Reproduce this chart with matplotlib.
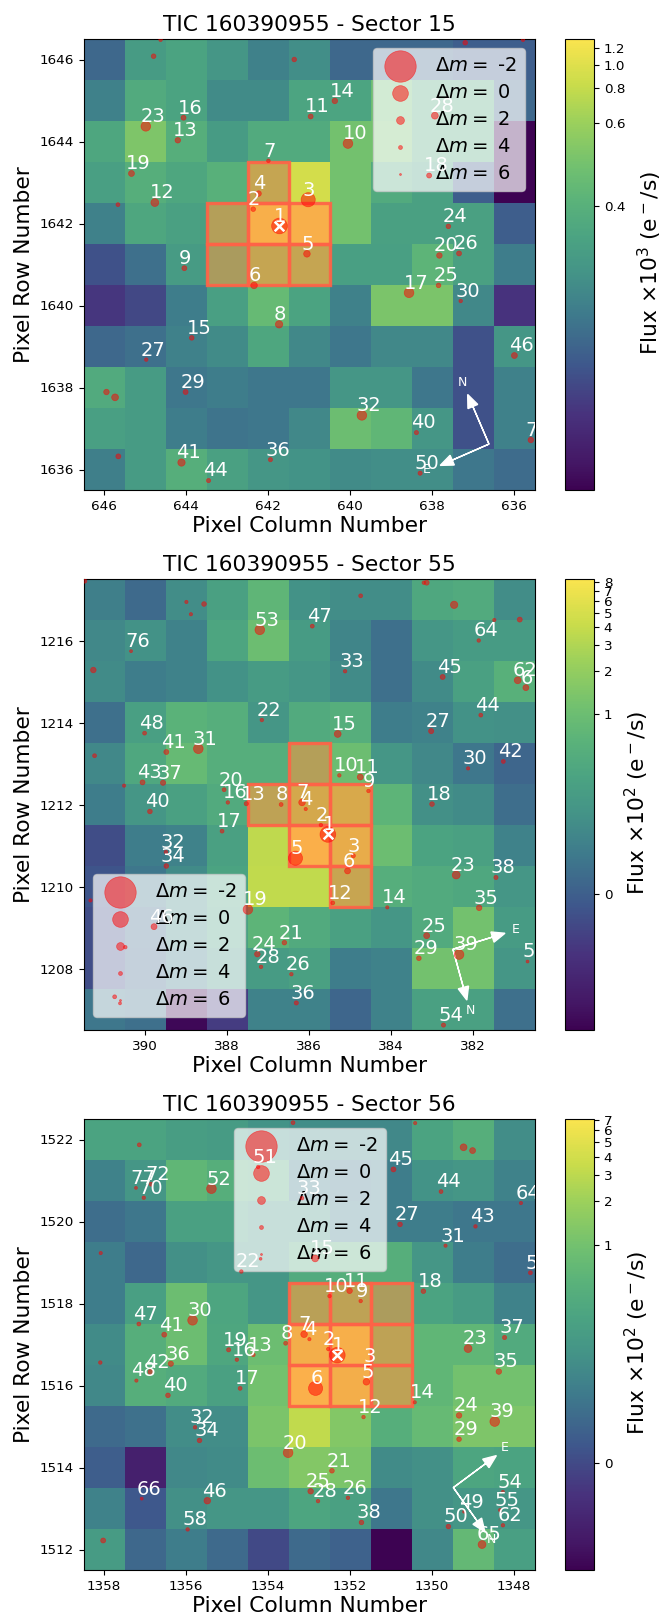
import numpy as np
import matplotlib
matplotlib.use('Agg')
import matplotlib.pyplot as plt
from matplotlib.colors import FuncNorm, LinearSegmentedColormap
from matplotlib.patches import Rectangle

# ---- Sector 15 ----
flux_15 = [
    [.331, .358, .370, .353, .339, .346, .331, .331, .331, .329, .329],
    [.339, .385, .370, .344, .344, .373, .373, .449, .385, .385, .331],
    [.377, .501, .395, .358, .385, .385, .468, .468, .385, .385, .322],
    [.363, .395, .377, .400, .614, .904, .468, .385, .366, .329, .322],
    [.339, .377, .366, .514, 1.25, 1.25, .468, .366, .366, .366, .329],
    [.327, .333, .358, .468, .614, .614, .363, .363, .411, .366, .337],
    [.3245, .326, .337, .363, .432, .370, .339, .490, .490, .342, .3243],
    [.331, .333, .339, .344, .377, .342, .335, .342, .342, .327, .353],
    [.385, .358, .335, .337, .335, .335, .353, .353, .335, .327, .339],
    [.363, .358, .337, .334, .335, .342, .449, .418, .353, .327, .339],
    [.338, .358, .395, .366, .353, .349, .344, .346, .346, .335, .332],
]
col_15 = [641.72, 642.36, 641.02, 642.23, 641.05, 642.34, 641.99, 641.73, 644.04, 640.05, 640.96,
          644.76, 644.20, 640.37, 643.86, 644.06, 638.56, 638.07, 645.33, 637.82, 644.98, 637.60,
          637.84, 637.34, 644.97, 637.93, 644.01, 637.30, 639.71, 641.94, 638.38, 644.11, 643.45,
          635.99, 638.29, 635.59, 644.62, 644.79, 641.36, 637.19, 635.78, 645.66, 645.94, 645.73, 645.65]
row_15 = [1641.94, 1642.35, 1642.58, 1642.73, 1641.26, 1640.49, 1643.53, 1639.54, 1640.91, 1643.95, 1644.61,
          1642.51, 1644.03, 1644.99, 1639.21, 1644.58, 1640.31, 1643.17, 1643.22, 1641.22, 1644.37, 1641.93,
          1640.49, 1641.27, 1638.68, 1644.63, 1637.89, 1640.11, 1637.32, 1636.24, 1636.90, 1636.17, 1635.73,
          1638.78, 1635.91, 1636.72, 1646.48, 1646.08, 1646.00, 1646.41, 1646.48, 1642.46, 1637.89, 1637.76, 1636.32]
dm_15 = [0, 3.5, .3, 3, 2.5, 2.5, 4.2, 2.2, 3.3, 1.4, 3.3,
         2, 3, 3, 3.5, 3.3, 1.4, 3.3, 2.8, 3, 1.4, 3.5,
         3.5, 3.3, 4.3, 2.4, 3.3, 4.3, 1.4, 3.8, 3.8, 2.2, 3.8,
         2.8, 3.8, 3, 4.3, 3.5, 3.5, 3.5, 4.3, 4, 3, 2.4, 3.3]
lab_15 = ['1', '2', '3', '4', '5', '6', '7', '8', '9', '10', '11',
          '12', '13', '14', '15', '16', '17', '18', '19', '20', '23', '24',
          '25', '26', '27', '28', '29', '30', '32', '36', '40', '41', '44',
          '46', '50', '7', '', '', '', '', '', '', '', '', '']
ticks_15 = [0.4, 0.6, 0.8, 1.0, 1.2]
aper_15 = [(642, 1643), (643, 1642), (642, 1642), (641, 1642), (643, 1641), (642, 1641), (641, 1641)]

# ---- Sector 55 ----
flux_55 = [
    [.075, .018, .135, .31, .74, .165, .135, .135, .405, .466, .135],
    [.109, .165, .086, .37, 1.0, .24, .097, .032, .199, .24, .24],
    [.121, .066, .086, .165, .24, .199, .121, .032, .121, .31, .59],
    [.032, .285, .64, .55, .199, .466, .55, .066, .086, .165, .15],
    [.109, .405, .86, .55, .55, 1.55, 1.0, .199, .109, .048, .013],
    [.066, .199, .31, .466, 2.06, 3.38, 3.62, .687, .15, .121, .026],
    [-.021, .066, .086, .31, 3.7, 8.0, 5.15, 1.0, .34, .31, .086],
    [-.015, .048, .121, .34, 3.8, 3.8, 2.57, .55, .466, .405, .199],
    [-.021, .018, .135, .31, .687, .466, .31, .199, .466, 1.16, .24],
    [-.021, .013, .066, .199, .24, .31, .066, .086, 1.16, 1.16, .199],
    [.048, .032, -.059, -.035, .086, .086, .013, .086, .31, .31, .032],
]
col_55 = [385.54, 385.71, 384.92, 386.08, 386.33, 385.06, 386.17, 386.68, 384.55, 385.26, 384.75,
          385.42, 387.53, 384.09, 385.30, 387.98, 388.12, 383.00, 387.49, 388.07, 386.60, 387.15,
          382.41, 387.26, 383.13, 386.43, 383.02, 387.17, 383.32, 382.12, 388.70, 389.49, 385.12,
          389.48, 381.85, 386.31, 389.56, 381.44, 382.34, 389.88, 389.48, 381.26, 390.06, 381.81,
          382.74, 389.78, 385.92, 390.01, 380.67, 387.20, 382.72, 380.91, 380.71, 381.86, 390.34,
          391.47, 391.26, 391.23, 390.51, 388.99, 388.88, 388.56, 384.74, 383.13, 383.20, 382.46,
          381.48, 380.86, 391.33, 390.74, 390.61, 390.48]
row_55 = [1211.27, 1211.50, 1210.75, 1211.89, 1210.69, 1210.38, 1212.05, 1212.00, 1212.33, 1212.71, 1212.67,
          1209.60, 1212.02, 1209.49, 1213.72, 1212.05, 1211.35, 1212.01, 1209.44, 1212.36, 1208.63, 1214.06,
          1210.28, 1208.35, 1208.80, 1207.86, 1213.79, 1208.04, 1208.25, 1212.88, 1213.36, 1210.84, 1215.25,
          1210.50, 1209.48, 1207.16, 1212.53, 1210.22, 1208.34, 1211.83, 1213.28, 1213.05, 1212.54, 1214.18,
          1215.11, 1209.02, 1216.35, 1213.74, 1208.17, 1216.26, 1206.62, 1215.03, 1214.85, 1216.00, 1215.74,
          1217.45, 1215.28, 1213.19, 1212.46, 1216.94, 1216.64, 1216.89, 1217.09, 1217.41, 1217.41, 1216.87,
          1216.50, 1216.51, 1209.66, 1207.31, 1207.15, 1208.52]
dm_55 = [0, 4.3, 3.8, 4.5, .3, 2.8, 2.5, 4, 4.3, 4.3, 2.8,
         4, 3.8, 4.5, 2.4, 4.3, 4, 3.5, 1.4, 4, 3.5, 4.3,
         2, 3, 2.8, 4.3, 3.2, 4.3, 3.5, 4.5, 1.4, 4.3, 4.3,
         3.5, 3, 3.8, 3.2, 3.8, 1.4, 3.5, 3.3, 4, 3.3, 4,
         3.3, 2.8, 4, 4, 4.8, 1.4, 3.8, 2.4, 2.8, 4.3, 4.8,
         3.8, 3, 4, 4.5, 4.5, 4.5, 3.5, 4, 3.3, 4.3, 2.2,
         4.5, 3.3, 4.5, 4, 4.8, 4.3]
lab_55 = ['1', '2', '3', '4', '5', '6', '7', '8', '9', '10', '11',
          '12', '13', '14', '15', '16', '17', '18', '19', '20', '21', '22',
          '23', '24', '25', '26', '27', '28', '29', '30', '31', '32', '33',
          '34', '35', '36', '37', '38', '39', '40', '41', '42', '43', '44',
          '45', '46', '47', '48', '5', '53', '54', '62', '6', '64', '76',
          '', '', '', '', '', '', '', '', '', '', '', '', '', '', '', '', '']
ticks_55 = [0, 1, 2, 3, 4, 5, 6, 7, 8]
aper_55 = [(386, 1213), (387, 1212), (386, 1212), (385, 1212), (386, 1211), (385, 1211), (385, 1210)]

# ---- Sector 56 ----
flux_56 = [
    [.31, .31, .245, .226, .162, .135, .114, .114, .31, .49, .135],
    [.094, .19, .66, .49, .417, .077, .062, .077, .162, .19, .094],
    [.043, .062, .284, .284, .19, .19, .077, .077, .077, .062, .062],
    [.077, .033, .149, .19, .19, .417, .49, .49, .19, .077, .043],
    [.077, .263, .87, .335, .19, 1.53, 1.77, 1.07, .31, .226, .094],
    [.124, .49, .87, .36, .87, 5.9, 6.4, 1.77, .66, .66, .417],
    [.114, .49, .417, .284, 1.0, 7.0, 5.9, 1.77, .66, 1.0, 1.0],
    [.038, .05, .135, .135, 1.15, 3.2, 1.33, .49, .77, 1.24, 1.24],
    [.02, -.023, .114, .124, .87, 1.33, 1.15, .124, .149, .335, .31],
    [.094, .012, .149, .19, .19, .335, .284, .062, .149, .19, .19],
    [.226, .033, .077, .038, 0.0, .038, .024, -.03, .114, .71, .263],
]
col_56 = [1352.31, 1352.53, 1351.55, 1352.99, 1351.60, 1352.84, 1353.12, 1353.57, 1351.74, 1352.50, 1352.01,
          1351.67, 1354.36, 1350.42, 1352.85, 1354.76, 1354.68, 1350.21, 1354.96, 1353.51, 1352.44, 1354.65,
          1349.12, 1349.34, 1352.96, 1352.05, 1350.78, 1352.78, 1349.34, 1355.84, 1349.67, 1355.78, 1353.17,
          1355.67, 1348.37, 1356.37, 1348.23, 1351.72, 1348.47, 1356.44, 1356.53, 1356.86, 1348.94, 1349.78,
          1350.94, 1355.48, 1357.15, 1357.21, 1349.22, 1347.60, 1349.60, 1354.24, 1355.38, 1348.27, 1348.34,
          1355.96, 1348.27, 1347.83, 1348.78, 1357.08, 1357.03, 1356.85, 1357.22,
          1353.39, 1350.41, 1357.14, 1358.08, 1358.09, 1358.02, 1349.23, 1349.01, 1354.18]
row_56 = [1516.74, 1516.89, 1516.48, 1517.13, 1516.09, 1515.93, 1517.25, 1517.03, 1518.06, 1518.18, 1518.31,
          1515.23, 1516.75, 1515.59, 1519.10, 1516.63, 1515.93, 1518.30, 1516.87, 1514.36, 1513.92, 1518.78,
          1516.90, 1515.27, 1513.42, 1513.26, 1519.93, 1513.18, 1514.69, 1517.59, 1519.41, 1514.98, 1520.57,
          1514.66, 1516.34, 1516.53, 1517.17, 1512.66, 1515.12, 1515.76, 1517.24, 1516.33, 1519.88, 1520.73,
          1521.27, 1513.19, 1517.50, 1516.12, 1512.92, 1518.75, 1512.56, 1521.33, 1520.80, 1513.41, 1512.96,
          1512.49, 1512.59, 1520.45, 1512.12, 1513.24, 1520.58, 1520.91, 1520.82,
          1522.41, 1522.40, 1521.87, 1519.23, 1516.56, 1512.22, 1521.81, 1521.73, 1519.09]
dm_56 = [0, 4.3, 5, 4.5, 2.5, .3, 2.5, 4, 4.3, 4.3, 3,
         4.3, 4, 4.5, 2.4, 4.3, 4, 3.5, 3.8, 1.4, 3.5, 4.3,
         2, 3, 3, 4.3, 3.5, 4.3, 3.5, 1.4, 4.5, 4.3, 4.3,
         3.5, 3, 3.2, 3.8, 3.5, 1.4, 3.5, 3.3, 3.2, 4.3, 4,
         3.3, 2.5, 4, 4.5, 5, 4, 3.5, 4.3, 1.4, 4.8, 4.5,
         4.3, 4.3, 4.5, 2, 4.8, 4.3, 4, 4.8,
         4, 4.5, 4, 4.5, 4.3, 3.3, 2.4, 2.8, 5]
lab_56 = ['1', '2', '3', '4', '5', '6', '7', '8', '9', '10', '11',
          '12', '13', '14', '15', '16', '17', '18', '19', '20', '21', '22',
          '23', '24', '25', '26', '27', '28', '29', '30', '31', '32', '33',
          '34', '35', '36', '37', '38', '39', '40', '41', '42', '43', '44',
          '45', '46', '47', '48', '49', '5', '50', '51', '52', '54', '55',
          '58', '62', '64', '65', '66', '70', '72', '77',
          '', '', '', '', '', '', '', '', '']
ticks_56 = [0, 1, 2, 3, 4, 5, 6, 7]
aper_56 = [(c, r) for r in (1518, 1517, 1516) for c in (1353, 1352, 1351)]

# per-panel scale and furniture
panels = [
    dict(sector=15, flux=flux_15, col=col_15, row=row_15, dm=dm_15, lab=lab_15, ticks=ticks_15, aper=aper_15,
         c0=646, r0=1646, vmin=.322, vmax=1.334, exp=3, top=39, cblab_x=650,
         origin=(636.61, 1636.62), n_tip=(637.13, 1637.83), e_tip=(637.80, 1636.10),
         n_txt=(637.26, 1638.11), e_txt=(638.12, 1635.99), tick_fmt='%.1f',
         leg=(373, 48)),
    dict(sector=55, flux=flux_55, col=col_55, row=row_55, dm=dm_55, lab=lab_55, ticks=ticks_55, aper=aper_55,
         c0=391, r0=1217, vmin=-.06, vmax=8.41, exp=2, top=579, cblab_x=637,
         origin=(382.49, 1208.47), n_tip=(382.15, 1207.23), e_tip=(381.22, 1208.86),
         n_txt=(382.07, 1206.98), e_txt=(380.96, 1208.96), tick_fmt='%d',
         leg=(93, 874)),
    dict(sector=56, flux=flux_56, col=col_56, row=row_56, dm=dm_56, lab=lab_56, ticks=ticks_56, aper=aper_56,
         c0=1358, r0=1522, vmin=-.03, vmax=7.16, exp=2, top=1119, cblab_x=637,
         origin=(1349.48, 1513.51), n_tip=(1348.71, 1512.43), e_tip=(1348.43, 1514.29),
         n_txt=(1348.55, 1512.24), e_txt=(1348.22, 1514.48), tick_fmt='%d',
         leg=(234, 1128)),
]
legend_dm = [-2, 0, 2, 4, 6]

# muted viridis as seen on the reference colour bars
cmap_pos = [0, .055, .166, .277, .388, .483, .56, .64, .714, .816, .898, 1]
cmap_rgb = [(61, 3, 82), (68, 22, 100), (72, 50, 125), (62, 88, 140), (62, 122, 140), (68, 148, 135),
            (75, 163, 130), (90, 178, 122), (112, 192, 112), (155, 208, 92), (200, 220, 75), (250, 228, 78)]
cmap = LinearSegmentedColormap.from_list('muted', [(p, tuple(v / 255 for v in c)) for p, c in zip(cmap_pos, cmap_rgb)], N=256)

W, H = 663, 1616
fig = plt.figure(figsize=(W / 100, H / 100), dpi=100)


def px_axes(x0, y0, w, h):
    return fig.add_axes([x0 / W, 1 - (y0 + h) / H, w / W, h / H])


for p in panels:
    ax = px_axes(83.5, p['top'], 451, 451)
    cax = px_axes(565, p['top'], 29, 451)
    vmin, vmax = p['vmin'], p['vmax']

    def fwd(v, vmin=vmin, vmax=vmax):
        x = np.clip((np.asarray(v, float) - vmin) / (vmax - vmin), 0, None)
        return np.log(1000 * x + 1) / np.log(1001)

    def inv(y, vmin=vmin, vmax=vmax):
        return vmin + (vmax - vmin) * (1001 ** np.asarray(y, float) - 1) / 1000

    norm = FuncNorm((fwd, inv), vmin=vmin, vmax=vmax)
    c0, r0 = p['c0'], p['r0']
    data = np.array(p['flux'], float)
    im = ax.imshow(data, cmap=cmap, norm=norm, interpolation='nearest', aspect='auto',
                   extent=(c0 + .5, c0 - 10.5, r0 - 10.5, r0 + .5), origin='upper')
    ax.set_xlim(c0 + .5, c0 - 10.5)
    ax.set_ylim(r0 - 10.5, r0 + .5)

    for c, r in p['aper']:
        ax.add_patch(Rectangle((c - .5, r - .5), 1, 1, color='tomato', fill=True, alpha=.4, zorder=3))
        ax.add_patch(Rectangle((c - .5, r - .5), 1, 1, color='tomato', fill=False, alpha=.9, lw=2.4, zorder=4))

    col = np.array(p['col'])
    row = np.array(p['row'])
    dm = np.array(p['dm'])
    ax.scatter(col, row, s=128 / 2 ** dm, c='red', alpha=.5, edgecolor='face', lw=.5, zorder=10, clip_on=True)
    ax.scatter([col[0]], [row[0]], marker='x', c='white', s=48, lw=1.8, zorder=12)
    for x, y, t in zip(col, row, p['lab']):
        if t:
            ax.text(x + .13, y + .10, t, color='white', fontsize=14, ha='left', va='baseline',
                    clip_on=True, zorder=13)

    ox, oy = p['origin']
    for tip in (p['n_tip'], p['e_tip']):
        ax.arrow(ox, oy, tip[0] - ox, tip[1] - oy, color='white', lw=1, head_width=.26, head_length=.32,
                 length_includes_head=True, zorder=8)
    ax.text(*p['n_txt'], 'N', color='white', fontsize=9, ha='center', va='center', zorder=8)
    ax.text(*p['e_txt'], 'E', color='white', fontsize=9, ha='center', va='center', zorder=8)

    handles = [ax.scatter([], [], s=128 / 2 ** d, c='red', alpha=.5, edgecolor='face', lw=.5,
                          label=r'$\Delta m=$ %d' % d) for d in legend_dm]
    lx, ly = p['leg']
    leg = ax.legend(handles=handles, loc='upper left', fontsize=14, framealpha=.7, scatterpoints=1,
                    labelspacing=.42, bbox_to_anchor=((lx - 83.5) / 451, 1 - (ly - p['top']) / 451),
                    borderaxespad=0)

    ax.set_xticks(np.arange(c0 - 10 + (c0 % 2), c0 + 1, 2))
    ax.set_yticks(np.arange(r0 - 10 + (r0 % 2), r0 + 1, 2))
    ax.xaxis.set_major_formatter(matplotlib.ticker.FormatStrFormatter('%d'))
    ax.yaxis.set_major_formatter(matplotlib.ticker.FormatStrFormatter('%d'))
    ax.tick_params(labelsize=9.7)
    ax.set_title('TIC 160390955 - Sector %d' % p['sector'], fontsize=15.7, pad=6)
    ax.set_xlabel('Pixel Column Number', fontsize=15.7, labelpad=2)
    ax.set_ylabel('Pixel Row Number', fontsize=15.7, labelpad=4)

    cb = fig.colorbar(im, cax=cax, ticks=p['ticks'], format=matplotlib.ticker.FormatStrFormatter(p['tick_fmt']))
    cb.minorticks_off()
    cb.ax.tick_params(labelsize=9.7)
    fig.text(p['cblab_x'] / W, 1 - (p['top'] + 225.5 - 2) / H,
             r'Flux $\times10^{%d}$ (e$^-$/s)' % p['exp'], rotation=90, fontsize=15.7,
             ha='center', va='center')

fig.savefig('out.png', dpi=100)
